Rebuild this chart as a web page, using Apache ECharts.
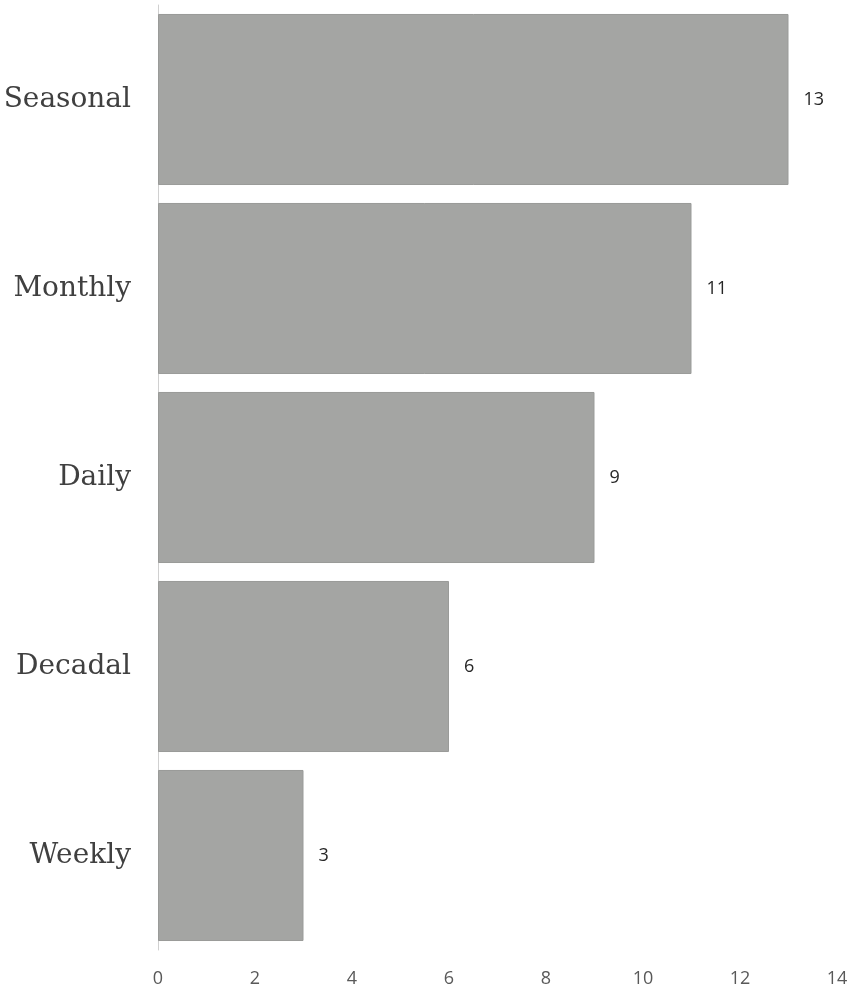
<!DOCTYPE html>
<html>
<head>
<meta charset="utf-8">
<script src="https://cdn.jsdelivr.net/npm/echarts@6/dist/echarts.min.js"></script>
<style>
  html, body { margin: 0; padding: 0; background: #fff; }
  #chart { width: 851px; height: 992px; }
</style>
</head>
<body>
<div id="chart"></div>
<script>
// 类别与数值
const categories = ['Seasonal', 'Monthly', 'Daily', 'Decadal', 'Weekly'];
const counts = [13, 11, 9, 6, 3];
const xTicks = [0, 2, 4, 6, 8, 10, 12, 14];

const mychart = echarts.init(document.getElementById('chart'));

const option = {
  animation: false,
  grid: {
    left: 158,
    right: 14,
    top: 5,
    bottom: 42,
    outerBoundsMode: 'none',
    containLabel: false,
  },
  xAxis: {
    type: 'value',
    min: xTicks[0],
    max: xTicks[xTicks.length - 1],
    interval: 2,
    splitLine: { show: false },
    axisLine: { show: false },
    axisTick: { show: false },
    axisLabel: {
      color: '#595959',
      fontSize: 18,
      fontFamily: 'Open Sans',
      margin: 20,
    },
  },
  yAxis: {
    type: 'category',
    inverse: true,
    data: categories,
    axisLine: {
      show: true,
      lineStyle: { color: '#d0d0d0', width: 1 },
    },
    axisTick: { show: false },
    axisLabel: {
      color: '#404040',
      fontSize: 28,
      fontFamily: 'DejaVu Serif',
      margin: 27,
      padding: [6, 0, 0, 0],
    },
  },
  series: [
    {
      type: 'bar',
      data: counts,
      barCategoryGap: '9.5%',
      itemStyle: {
        color: '#a4a5a3',
        borderColor: '#9a9b99',
        borderWidth: 1,
      },
      label: {
        show: true,
        position: 'right',
        distance: 15,
        color: '#262626',
        fontSize: 18,
        fontFamily: 'Open Sans',
      },
    },
  ],
};

mychart.setOption(option);
</script>
</body>
</html>
